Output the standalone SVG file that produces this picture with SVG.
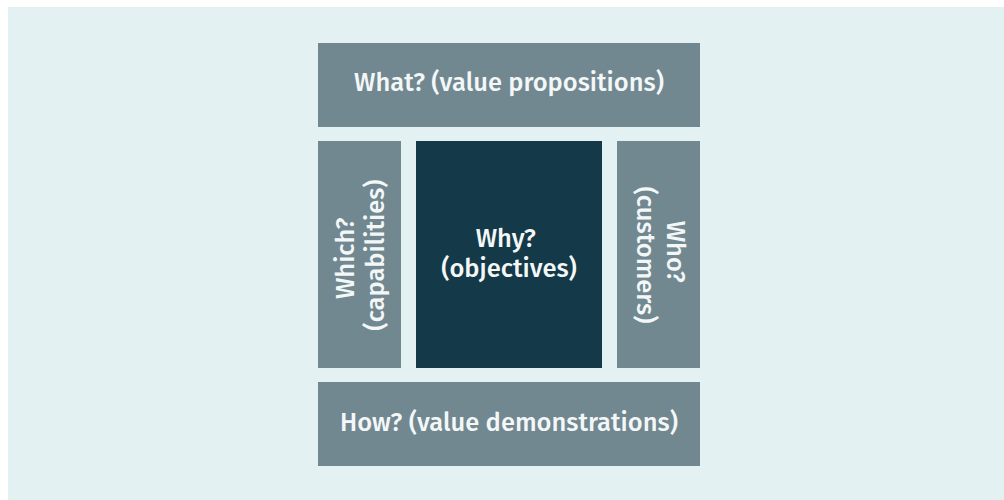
<svg xmlns="http://www.w3.org/2000/svg" width="1004" height="500" viewBox="0 0 1004 500">
  <style>
    .box { fill: #718891; }
    .core { fill: #143a49; }
    .lbl { fill: #f4f7f7; font-family: "Fira Sans", "Open Sans", "Noto Sans", sans-serif; font-weight: 500; font-size: 25.5px; text-anchor: middle; }
  </style>
  <rect x="0" y="0" width="1004" height="500" fill="#ffffff"/>
  <rect x="8" y="7" width="996" height="493" fill="#e3f1f3"/>

  <g id="what">
    <rect class="box" x="318" y="43" width="382" height="84"/>
    <text class="lbl" x="509" y="91">What? (value propositions)</text>
  </g>

  <g id="which">
    <rect class="box" x="318" y="141" width="83" height="227"/>
    <text class="lbl" transform="translate(359.5 255) rotate(-90)">
      <tspan x="0" y="-6">Which?</tspan>
      <tspan x="0" y="24">(capabilities)</tspan>
    </text>
  </g>

  <g id="why">
    <rect class="core" x="416" y="141" width="186" height="227"/>
    <text class="lbl">
      <tspan x="509" y="247">Why?</tspan>
      <tspan x="509" y="277">(objectives)</tspan>
    </text>
  </g>

  <g id="who">
    <rect class="box" x="617" y="141" width="83" height="227"/>
    <text class="lbl" transform="translate(658.5 255) rotate(90)">
      <tspan x="0" y="-8">Who?</tspan>
      <tspan x="0" y="22">(customers)</tspan>
    </text>
  </g>

  <g id="how">
    <rect class="box" x="318" y="382" width="382" height="84"/>
    <text class="lbl" x="509" y="431">How? (value demonstrations)</text>
  </g>

  <g id="connectors"></g>
</svg>
